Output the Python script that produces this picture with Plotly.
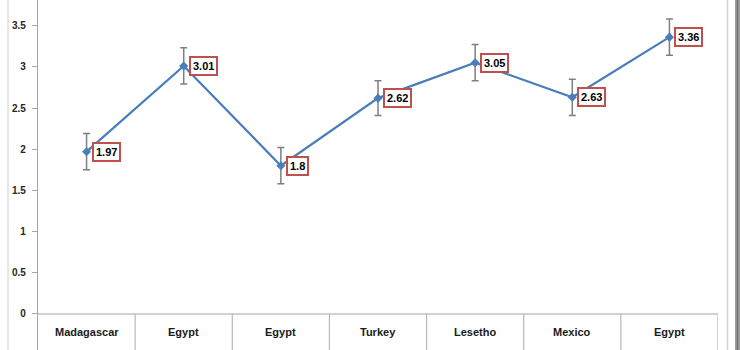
import plotly.graph_objects as go

categories = ["Madagascar", "Egypt", "Egypt", "Turkey", "Lesetho", "Mexico", "Egypt"]
values = [1.97, 3.01, 1.80, 2.62, 3.05, 2.63, 3.36]
errors = [0.22, 0.22, 0.22, 0.21, 0.22, 0.22, 0.22]
ytick_vals = [0, 0.5, 1, 1.5, 2, 2.5, 3, 3.5]
ytick_text = ["0", "0.5", "1", "1.5", "2", "2.5", "3", "3.5"]

W, H = 740, 350
x0px, x1px = 38, 718
y_top, y_bot = 3.811, -0.437

xs = list(range(len(categories)))

fig = go.Figure()
fig.add_trace(go.Scatter(
    x=xs, y=values, mode="lines+markers",
    line=dict(color="#4a7ebb", width=2.25),
    marker=dict(symbol="diamond", size=7, color="#4a7ebb"),
    error_y=dict(type="data", array=errors, visible=True,
                 color="#7f7f7f", thickness=1.5, width=3.5),
    hoverinfo="skip", showlegend=False,
))

def px_to_paper(px):
    return (px - x0px) / (x1px - x0px)

shapes = []
# zero line / top of category table
shapes.append(dict(type="line", xref="x", yref="y", x0=-0.5, x1=len(categories) - 0.5,
                   y0=0, y1=0, line=dict(color="#a6a6a6", width=1.2)))
# category separators
for k in range(len(categories)):
    shapes.append(dict(type="line", xref="x", yref="y", x0=k + 0.5, x1=k + 0.5,
                       y0=0, y1=y_bot, line=dict(color="#b8b8b8", width=1.2)))
# outer frame lines
shapes.append(dict(type="line", xref="paper", yref="paper", x0=px_to_paper(8), x1=px_to_paper(8),
                   y0=0, y1=1, line=dict(color="#cfcfcf", width=1)))
shapes.append(dict(type="line", xref="paper", yref="paper", x0=px_to_paper(727.5), x1=px_to_paper(727.5),
                   y0=0, y1=1, line=dict(color="#d4d4d4", width=1.5)))
shapes.append(dict(type="rect", xref="paper", yref="paper", x0=px_to_paper(735), x1=px_to_paper(740),
                   y0=0, y1=1, fillcolor="#a0a0a0", line=dict(width=0)))
shapes.append(dict(type="line", xref="paper", yref="paper", x0=px_to_paper(737.5), x1=px_to_paper(737.5),
                   y0=0, y1=1, line=dict(color="#707070", width=1.5)))

annotations = []
for i, (c, v) in enumerate(zip(categories, values)):
    annotations.append(dict(
        x=i, y=v, xref="x", yref="y", text="<b>%g</b>" % v, showarrow=False,
        xanchor="left", yanchor="middle", xshift=5,
        font=dict(family="Liberation Sans", size=11, color="#000000"),
        bgcolor="#ffffff", bordercolor="#c0504d", borderwidth=2, borderpad=2,
    ))
    annotations.append(dict(
        x=i, y=-0.215, xref="x", yref="y", text="<b>%s</b>" % c, showarrow=False,
        xanchor="center", yanchor="middle",
        font=dict(family="Liberation Sans", size=11, color="#1a1a1a"),
    ))

fig.update_layout(
    width=W, height=H,
    margin=dict(l=x0px, r=W - x1px, t=0, b=0),
    paper_bgcolor="#ffffff", plot_bgcolor="#ffffff",
    xaxis=dict(range=[-0.5, len(categories) - 0.5], showgrid=False, zeroline=False,
               showticklabels=False, ticks="", showline=False, fixedrange=True),
    yaxis=dict(range=[y_bot, y_top], showgrid=False, zeroline=False,
               showline=True, linecolor="#a6a6a6", linewidth=1.2,
               tickmode="array", tickvals=ytick_vals,
               ticktext=["<b>%s</b>" % t for t in ytick_text],
               ticks="outside", ticklen=5, tickcolor="#a6a6a6", tickwidth=1,
               tickfont=dict(family="Liberation Sans", size=10, color="#262626"),
               ticklabelstandoff=4, fixedrange=True),
    shapes=shapes, annotations=annotations,
)

fig.write_html("out.html")
